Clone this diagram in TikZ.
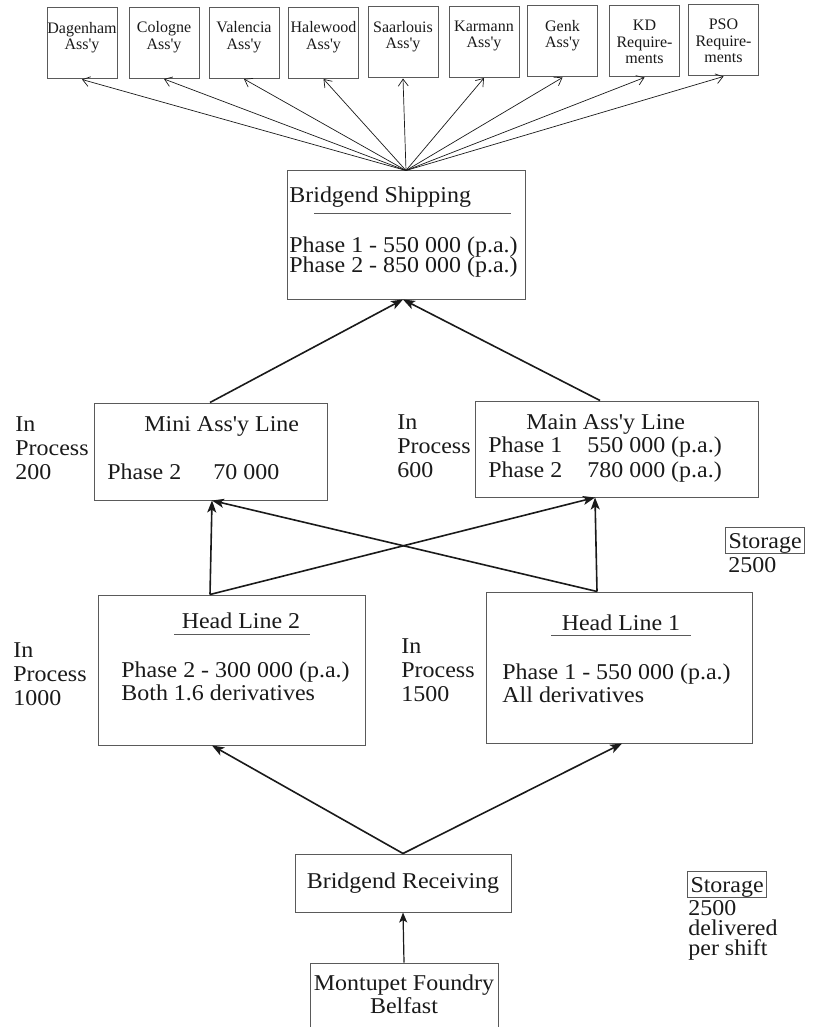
\documentclass[tikz,border=0pt]{standalone}
\usepackage{fontspec}
\newfontfamily\bodyfont{Liberation Serif}[FakeStretch=1.06]
\newfontfamily\smallfont{Liberation Serif}
\usetikzlibrary{arrows.meta}
\definecolor{ink}{HTML}{1A1A1A}
\definecolor{edge}{HTML}{5A5A5A}
\tikzset{
  every node/.style={inner sep=0pt, text=ink, font=\bodyfont\fontsize{11.3}{12}\selectfont},
  box/.style={draw=edge, line width=0.5pt},
  topbox/.style={box, minimum width=35pt, minimum height=35.5pt},
  toptext/.style={anchor=north, align=center, font=\smallfont\fontsize{8}{8.2}\selectfont},
  thinarrow/.style={draw=ink, line width=0.35pt, -{Straight Barb[length=3.5pt,width=5pt]}},
  thickarrow/.style={draw=ink, line width=0.8pt, -{Stealth[length=6pt,width=4.5pt,inset=1.5pt]}},
  midarrow/.style={draw=ink, line width=0.6pt, -{Stealth[length=5pt,width=4pt,inset=1.2pt]}},
  rule/.style={draw=edge, line width=0.4pt},
  stack/.style={anchor=north west, align=left},
  storebox/.style={box, anchor=base west, text height=10.5pt, text depth=2.5pt, inner xsep=1.5pt}
}
\begin{document}
\begin{tikzpicture}[x=0.5pt,y=-0.5pt]
\fill[white] (0,0) rectangle (817,1027);
\useasboundingbox (0,0) rectangle (817,1027);

% destination plants and requirements
\foreach \n/\x/\y/\t in {
  dag/82/43.5/{Dagenham\\Ass'y},
  col/164/43/{Cologne\\Ass'y},
  val/244/43/{Valencia\\Ass'y},
  hal/323.5/43/{Halewood\\Ass'y},
  saa/403/42.5/{Saarlouis\\Ass'y},
  kar/484/42/{Karmann\\Ass'y},
  gen/562.5/41.5/{Genk\\Ass'y},
  kdr/644.5/41.5/{KD\\Require-\\ments},
  pso/723.5/40.5/{PSO\\Require-\\ments}} {
  \node[topbox] (\n) at (\x,\y) {};
  \node[toptext] (\n-t) at ([yshift=-7.2pt]\n.north) {\t};
}

% shipping
\node[box, minimum width=119pt, minimum height=64pt] (ship) at (406,235) {};
\node[anchor=base west] (shipT) at (289,203) {Bridgend Shipping};
\draw[rule] ([xshift=12.5pt,yshift=-5pt]shipT.base west) -- ([xshift=20pt,yshift=-5pt]shipT.base east);
\node[anchor=base west] (ship1) at (289,252) {Phase 1 - 550 000 (p.a.)};
\node[anchor=base west] (ship2) at (289,272) {Phase 2 - 850 000 (p.a.)};

\foreach \n in {dag,col,val,hal,saa,kar,gen,kdr,pso}
  \draw[thinarrow] (ship.north) -- (\n.south);

% assembly lines
\node[box, minimum width=116.5pt, minimum height=48.5pt] (mini) at (210.5,451.5) {};
\node[anchor=base west] (miniT) at (144,431) {Mini Ass'y Line};
\node[anchor=base west] (mini2) at (107,479) {\makebox[53pt][l]{Phase 2}70 000};

\node[box, minimum width=141.5pt, minimum height=48pt] (main) at (616.5,449) {};
\node[anchor=base west] (mainT) at (526,429) {Main Ass'y Line};
\node[anchor=base west] (main1) at (488,452) {\makebox[49.5pt][l]{Phase 1}550 000 (p.a.)};
\node[anchor=base west] (main2) at (488,477) {\makebox[49.5pt][l]{Phase 2}780 000 (p.a.)};

\node[stack] (wipMini) at (15,416) {In\\Process\\200};
\node[stack] (wipMain) at (397,414) {In\\Process\\600};

% head lines
\node[box, minimum width=133.5pt, minimum height=75pt] (hl2) at (231.5,670) {};
\node[anchor=base] (hl2T) at (241,628) {Head Line 2};
\draw[rule] ([xshift=-3.5pt,yshift=-3pt]hl2T.base west) -- ([xshift=4.5pt,yshift=-3pt]hl2T.base east);
\node[anchor=base west] (hl2a) at (121,677) {Phase 2 - 300 000 (p.a.)};
\node[anchor=base west] (hl2b) at (121,700) {Both 1.6 derivatives};

\node[box, minimum width=133pt, minimum height=75.5pt] (hl1) at (619,667.5) {};
\node[anchor=base] (hl1T) at (621,630) {Head Line 1};
\draw[rule] ([xshift=-5pt,yshift=-2.5pt]hl1T.base west) -- ([xshift=5pt,yshift=-2.5pt]hl1T.base east);
\node[anchor=base west] (hl1a) at (502,679) {Phase 1 - 550 000 (p.a.)};
\node[anchor=base west] (hl1b) at (502,702) {All derivatives};

\node[stack] (wipHl2) at (13,642) {In\\Process\\1000};
\node[stack] (wipHl1) at (401,638) {In\\Process\\1500};

% storage notes
\node[storebox] (store1) at (725,548) {Storage};
\node[anchor=base west] (store1n) at (728,572) {2500};
\node[storebox] (store2) at (687,892) {Storage};
\node[stack, font=\bodyfont\fontsize{11.3}{10}\selectfont] (store2n) at (688,900) {2500\\delivered\\per shift};

% receiving and foundry
\node[box, minimum width=108pt, minimum height=29pt] (recv) at (403,883) {Bridgend Receiving};
\node[box, minimum width=94pt, minimum height=38.5pt] (mont) at (404,1001.5) {};
\node[anchor=north, align=center, font=\bodyfont\fontsize{11.3}{11.5}\selectfont] (montT) at ([yshift=-6pt]mont.north) {Montupet Foundry\\Belfast};

% material flow
\draw[midarrow] (mont.north) -- (recv.south);
\draw[thickarrow] (recv.north) -- ([xshift=-9.75pt]hl2.south);
\draw[thickarrow] (recv.north) -- ([xshift=1.5pt]hl1.south);
\draw[thickarrow] ([xshift=-10.75pt]hl2.north) -- ([xshift=0.75pt]mini.south);
\draw[thickarrow] ([xshift=-10.75pt]hl2.north) -- ([xshift=-10.75pt]main.south);
\draw[thickarrow] ([xshift=-11pt]hl1.north) -- ([xshift=-10.75pt]main.south);
\draw[thickarrow] ([xshift=-11pt]hl1.north) -- ([xshift=0.75pt]mini.south);
\draw[thickarrow] ([xshift=-0.25pt]mini.north) -- ([xshift=-1.5pt]ship.south);
\draw[thickarrow] ([xshift=-8.25pt]main.north) -- ([xshift=-1.5pt]ship.south);
\end{tikzpicture}
\end{document}
